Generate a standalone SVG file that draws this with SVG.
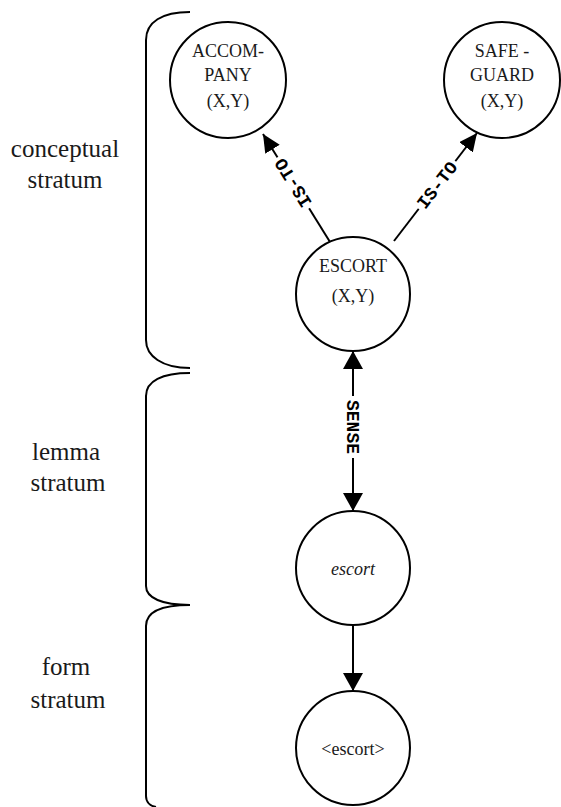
<svg xmlns="http://www.w3.org/2000/svg" width="561" height="807" viewBox="0 0 561 807">
<style>
.node circle{fill:#fff;stroke:#000;stroke-width:2}
.nt{font-family:"Liberation Serif","Times New Roman",serif;font-size:18px;fill:#1a1a1a;text-anchor:middle}
.st{font-family:"Liberation Serif","Times New Roman",serif;font-size:25px;fill:#1a1a1a;text-anchor:middle}
.brace{fill:none;stroke:#000;stroke-width:2}
.edge{stroke:#000;stroke-width:2;fill:none}
.lbl{font-family:"Liberation Mono","Courier New",monospace;font-size:18px;font-weight:bold;fill:#000;text-anchor:middle}
.lblbg{fill:#fff}
</style>
<defs>
<marker id="ah" viewBox="0 0 18 20" refX="18" refY="10" markerWidth="18" markerHeight="20" markerUnits="userSpaceOnUse" orient="auto-start-reverse">
<path d="M0,0 L18,10 L0,20 z" fill="#000"/>
</marker>
<marker id="ahs" viewBox="0 0 18 17" refX="18" refY="8.5" markerWidth="18" markerHeight="17" markerUnits="userSpaceOnUse" orient="auto">
<path d="M0,0 L18,8.5 L0,17 z" fill="#000"/>
</marker>
</defs>
<rect width="561" height="807" fill="#fff"/>

<g id="strata">
<path class="brace" d="M190,12 C162,12 146,22 146,40 L146,340 C146,356 162,368 190,368"/>
<path class="brace" d="M190,373 C162,373 146,381 146,396 L146,586 C146,598 162,605 190,605"/>
<path class="brace" d="M190,605 C162,605 146,612 146,626 L146,796 C146,802 150,806 156,807"/>
<text class="st" x="65" y="157">conceptual</text>
<text class="st" x="65" y="188">stratum</text>
<text class="st" x="66" y="460">lemma</text>
<text class="st" x="68" y="491">stratum</text>
<text class="st" x="66" y="675">form</text>
<text class="st" x="68" y="708">stratum</text>
</g>

<g id="connectors">
<line class="edge" x1="330" y1="242" x2="263" y2="134" marker-end="url(#ahs)"/>
<line class="edge" x1="394" y1="241" x2="477" y2="133" marker-end="url(#ahs)"/>
<line class="edge" x1="353" y1="351" x2="353" y2="511" marker-start="url(#ah)" marker-end="url(#ah)"/>
<line class="edge" x1="353" y1="625" x2="353" y2="691" marker-end="url(#ah)"/>
<g transform="translate(293,183) rotate(238.2)">
<rect class="lblbg" x="-30" y="-10" width="60" height="20"/>
<text class="lbl" x="0" y="6">IS-TO</text>
</g>
<g transform="translate(437,185) rotate(-52.5)">
<rect class="lblbg" x="-30" y="-10" width="60" height="20"/>
<text class="lbl" x="0" y="6">IS-TO</text>
</g>
<g transform="translate(353,427) rotate(90)">
<rect class="lblbg" x="-31" y="-10" width="62" height="20"/>
<text class="lbl" x="0" y="6">SENSE</text>
</g>
</g>

<g id="accompany" class="node">
<circle cx="228" cy="80" r="58"/>
<text class="nt" x="228" y="57">ACCOM-</text>
<text class="nt" x="228" y="81">PANY</text>
<text class="nt" x="228" y="107">(X,Y)</text>
</g>
<g id="safeguard" class="node">
<circle cx="502" cy="80" r="58"/>
<text class="nt" x="502" y="57">SAFE -</text>
<text class="nt" x="502" y="81">GUARD</text>
<text class="nt" x="502" y="107">(X,Y)</text>
</g>
<g id="escort-concept" class="node">
<circle cx="353" cy="294" r="57"/>
<text class="nt" x="353" y="272">ESCORT</text>
<text class="nt" x="353" y="302">(X,Y)</text>
</g>
<g id="escort-lemma" class="node">
<circle cx="353" cy="568" r="57"/>
<text class="nt" x="353" y="575" font-style="italic" font-size="21">escort</text>
</g>
<g id="escort-form" class="node">
<circle cx="353" cy="748" r="57"/>
<text class="nt" x="353" y="755" font-size="20">&lt;escort&gt;</text>
</g>
</svg>
